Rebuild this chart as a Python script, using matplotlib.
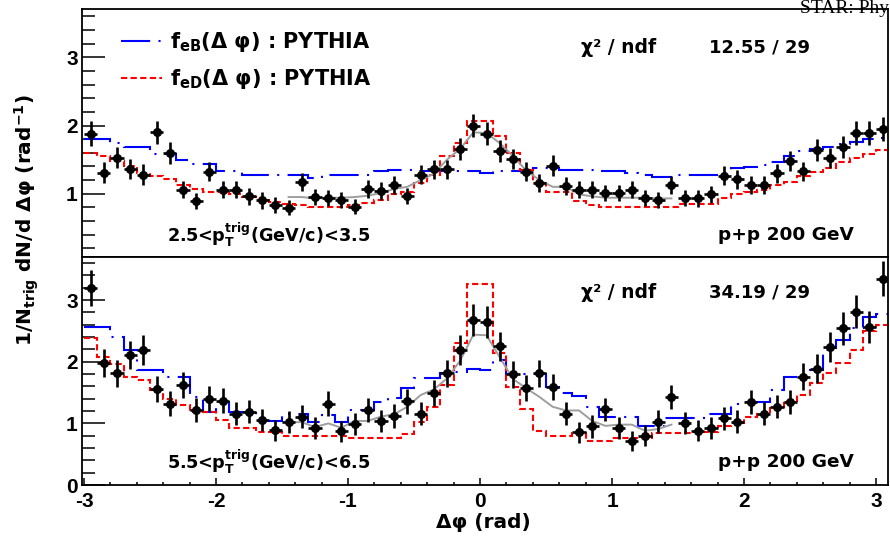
import numpy as np
import matplotlib
matplotlib.use("Agg")
import matplotlib.pyplot as plt
from matplotlib.lines import Line2D
from matplotlib.ticker import MultipleLocator

plt.rcParams['font.family'] = ['Liberation Sans', 'DejaVu Sans']
plt.rcParams['font.weight'] = 'bold'
plt.rcParams['axes.unicode_minus'] = False
plt.rcParams['mathtext.fontset'] = 'dejavusans'
plt.rcParams['mathtext.default'] = 'bf'

LABEL_FONT = 'DejaVu Sans'

# 0.1 rad bins in delta phi, -3.0 .. 3.1
edges = np.linspace(-3.0, 3.1, 62)
centers = 0.5 * (edges[:-1] + edges[1:])
half_bin = 0.05

# the template fit only covers |dphi| < 1.5 (30 bins)
fit_lo, fit_hi = 15, 45
fit_x = centers[fit_lo:fit_hi]

# ---- 2.5 < pT(trig) < 3.5 GeV/c ----
top_data = [1.88, 1.31, 1.53, 1.36, 1.28, 1.90, 1.60, 1.06, 0.89, 1.32,
            1.06, 1.06, 0.96, 0.90, 0.83, 0.79, 1.17, 0.95, 0.94, 0.91,
            0.81, 1.07, 1.04, 1.13, 0.97, 1.28, 1.36, 1.36, 1.65, 2.00,
            1.88, 1.63, 1.51, 1.32, 1.16, 1.41, 1.11, 1.06, 1.06, 1.01,
            1.01, 1.06, 0.94, 0.91, 1.13, 0.94, 0.93, 0.99, 1.26, 1.21,
            1.13, 1.13, 1.30, 1.48, 1.33, 1.64, 1.52, 1.68, 1.89, 1.89,
            1.95]
top_err = [0.18, 0.15, 0.16, 0.15, 0.15, 0.17, 0.16, 0.13, 0.12, 0.14,
           0.13, 0.13, 0.12, 0.12, 0.12, 0.11, 0.13, 0.12, 0.12, 0.12,
           0.11, 0.13, 0.13, 0.13, 0.12, 0.14, 0.14, 0.14, 0.16, 0.17,
           0.17, 0.16, 0.15, 0.14, 0.13, 0.15, 0.13, 0.13, 0.13, 0.12,
           0.12, 0.13, 0.12, 0.12, 0.13, 0.12, 0.12, 0.12, 0.14, 0.14,
           0.13, 0.13, 0.14, 0.15, 0.14, 0.16, 0.15, 0.16, 0.17, 0.17,
           0.18]
top_feB = [1.80, 1.80, 1.75, 1.69, 1.69, 1.58, 1.58, 1.50, 1.43, 1.43,
           1.33, 1.33, 1.28, 1.28, 1.28, 1.28, 1.28, 1.23, 1.28, 1.28,
           1.28, 1.28, 1.33, 1.35, 1.35, 1.33, 1.33, 1.33, 1.33, 1.33,
           1.30, 1.33, 1.33, 1.35, 1.37, 1.37, 1.34, 1.34, 1.34, 1.33,
           1.33, 1.30, 1.28, 1.24, 1.24, 1.28, 1.28, 1.28, 1.31, 1.37,
           1.39, 1.42, 1.46, 1.55, 1.62, 1.66, 1.69, 1.73, 1.76, 1.80,
           1.81]
top_feD = [1.60, 1.55, 1.48, 1.41, 1.31, 1.26, 1.21, 1.13, 1.07, 1.03,
           1.02, 0.99, 0.95, 0.91, 0.88, 0.85, 0.84, 0.81, 0.81, 0.81,
           0.83, 0.86, 0.91, 0.99, 1.03, 1.16, 1.28, 1.55, 1.75, 2.06,
           2.06, 1.85, 1.60, 1.34, 1.16, 1.03, 1.03, 0.89, 0.84, 0.81,
           0.81, 0.81, 0.81, 0.81, 0.81, 0.85, 0.85, 0.85, 0.94, 0.99,
           1.03, 1.06, 1.13, 1.17, 1.26, 1.32, 1.38, 1.46, 1.53, 1.58,
           1.64]
top_fit = [0.95, 0.95, 0.93, 0.94, 0.94, 0.95, 0.97, 1.01, 1.07, 1.10,
           1.20, 1.29, 1.50, 1.66, 1.90, 1.89, 1.74, 1.55, 1.34, 1.20,
           1.10, 1.10, 0.99, 0.96, 0.94, 0.94, 0.94, 0.94, 0.93, 0.93]

# ---- 5.5 < pT(trig) < 6.5 GeV/c ----
bot_data = [3.20, 1.98, 1.81, 2.11, 2.19, 1.56, 1.32, 1.62, 1.22, 1.40,
            1.37, 1.16, 1.19, 1.05, 0.89, 1.02, 1.11, 0.92, 1.32, 0.87,
            0.99, 1.22, 1.04, 1.12, 1.36, 1.16, 1.49, 1.81, 2.19, 2.68,
            2.65, 2.25, 1.80, 1.58, 1.81, 1.59, 1.16, 0.86, 0.95, 1.23,
            0.92, 0.72, 0.80, 1.03, 1.43, 1.00, 0.88, 0.93, 1.08, 1.03,
            1.35, 1.16, 1.27, 1.35, 1.76, 1.89, 2.24, 2.54, 2.81, 2.57,
            3.35]
bot_err = [0.29, 0.23, 0.22, 0.23, 0.24, 0.21, 0.20, 0.21, 0.19, 0.20,
           0.20, 0.19, 0.19, 0.18, 0.17, 0.18, 0.19, 0.18, 0.20, 0.17,
           0.18, 0.19, 0.18, 0.19, 0.20, 0.19, 0.21, 0.22, 0.24, 0.26,
           0.26, 0.24, 0.22, 0.21, 0.22, 0.21, 0.19, 0.17, 0.18, 0.19,
           0.18, 0.16, 0.17, 0.18, 0.20, 0.18, 0.17, 0.18, 0.19, 0.18,
           0.20, 0.19, 0.19, 0.20, 0.22, 0.23, 0.24, 0.26, 0.27, 0.26,
           0.29]
bot_feB = [2.57, 2.57, 2.40, 2.19, 1.87, 1.87, 1.75, 1.75, 1.43, 1.19,
           1.35, 1.18, 1.18, 1.04, 1.04, 1.16, 1.16, 1.03, 1.13, 1.02,
           1.22, 1.22, 1.35, 1.41, 1.57, 1.74, 1.74, 1.81, 1.84, 1.89,
           1.87, 2.03, 1.80, 1.80, 1.80, 1.59, 1.49, 1.45, 1.26, 1.11,
           1.11, 1.11, 0.96, 0.96, 1.08, 1.08, 1.08, 1.16, 1.16, 1.32,
           1.35, 1.35, 1.55, 1.76, 1.76, 1.86, 2.19, 2.35, 2.54, 2.73,
           2.78]
bot_feD = [2.39, 2.08, 1.97, 1.76, 1.70, 1.54, 1.40, 1.30, 1.19, 1.19,
           1.05, 0.92, 0.92, 0.86, 0.86, 0.80, 0.80, 0.80, 0.80, 0.80,
           0.76, 0.76, 0.76, 0.76, 0.83, 1.03, 1.26, 1.62, 2.30, 3.27,
           3.27, 2.14, 1.59, 1.23, 0.88, 0.80, 0.80, 0.84, 0.72, 0.72,
           0.77, 0.77, 0.77, 0.84, 0.84, 0.84, 0.86, 0.86, 0.95, 1.00,
           1.11, 1.15, 1.25, 1.36, 1.46, 1.65, 1.82, 1.98, 2.19, 2.50,
           2.60]
bot_fit = [1.02, 1.02, 0.94, 1.00, 0.93, 1.04, 1.04, 1.11, 1.15, 1.27,
           1.46, 1.55, 1.73, 2.02, 2.44, 2.43, 2.07, 1.72, 1.57, 1.43,
           1.27, 1.21, 1.21, 1.04, 0.96, 0.98, 0.98, 0.88, 0.91, 0.98]

pt_bins = ['2.5<p$_{T}^{trig}$(GeV/c)<3.5', '5.5<p$_{T}^{trig}$(GeV/c)<6.5']
chi2 = ['12.55 / 29', '34.19 / 29']

blue_ls = (0, (14, 4, 1, 4))
red_ls = (0, (3, 1.6))

fig = plt.figure(figsize=(8.9, 5.36), dpi=100)
ax1 = fig.add_axes([0.0921, 0.5205, 0.9056, 0.4627])
ax2 = fig.add_axes([0.0921, 0.0951, 0.9056, 0.4254])


def draw_panel(ax, data, err, feB, feD, fit):
    ax.stairs(feB, edges, baseline=None, color='#0000ff', lw=1.5,
              linestyle=blue_ls, zorder=2)
    ax.stairs(feD, edges, baseline=None, color='#ff0000', lw=1.5,
              linestyle=red_ls, zorder=2)
    ax.plot(fit_x, fit, color='0.62', lw=1.4, zorder=3)
    ax.errorbar(centers, data, yerr=err, xerr=half_bin, fmt='o', color='black',
                ms=5.5, elinewidth=1.9, capsize=0, zorder=5)
    ax.set_xlim(-3.015, 3.09)
    ax.yaxis.set_major_locator(MultipleLocator(1))
    ax.yaxis.set_minor_locator(MultipleLocator(0.2))
    ax.tick_params(axis='y', which='major', direction='in', length=16.5,
                   width=1.1, labelsize=15, pad=3, right=False)
    ax.tick_params(axis='y', which='minor', direction='in', length=9,
                   width=1.1, right=False)
    for s in ax.spines.values():
        s.set_linewidth(1.3)


draw_panel(ax1, top_data, top_err, top_feB, top_feD, top_fit)
draw_panel(ax2, bot_data, bot_err, bot_feB, bot_feD, bot_fit)

ax1.set_ylim(0.07, 3.71)
ax1.tick_params(axis='x', which='both', bottom=False, labelbottom=False)

ax2.set_ylim(0, 3.70)
ax2.xaxis.set_major_locator(MultipleLocator(1))
ax2.xaxis.set_minor_locator(MultipleLocator(0.2))
ax2.tick_params(axis='x', which='major', direction='in', length=5,
                width=1.1, labelsize=15, pad=5, top=False)
ax2.tick_params(axis='x', which='minor', direction='in', length=2.5,
                width=1.1, top=False)

# legend for the two PYTHIA templates
handles = [Line2D([], [], color='#0000ff', lw=1.5, linestyle=blue_ls),
           Line2D([], [], color='#ff0000', lw=1.5, linestyle=red_ls)]
labels = ['f$_{eB}$(Δ φ) : PYTHIA', 'f$_{eD}$(Δ φ) : PYTHIA']
ax1.legend(handles, labels, loc='upper left', bbox_to_anchor=(0.048, 0.915),
           frameon=False, handlelength=2.0, handletextpad=0.35,
           labelspacing=0.62, borderpad=0, borderaxespad=0,
           prop=dict(family=LABEL_FONT, weight='bold', size=15))

for ax, ptl, chi, ytxt, ylab in [(ax1, pt_bins[0], chi2[0], 3.14, 0.40),
                                 (ax2, pt_bins[1], chi2[1], 3.13, 0.37)]:
    ax.text(1.05, ytxt, 'χ² / ndf', ha='center', va='center', fontsize=13.5,
            family=LABEL_FONT)
    ax.text(2.12, ytxt, chi, ha='center', va='center', fontsize=13,
            family=LABEL_FONT)
    ax.text(-1.60, ylab, ptl, ha='center', va='center', fontsize=12.7,
            family=LABEL_FONT)
    ax.text(2.32, ylab, 'p+p 200 GeV', ha='center', va='center', fontsize=13.3,
            family=LABEL_FONT)

fig.text(27 / 890, 1 - 220 / 536, r'1/N$_{trig}$ dN/d Δφ (rad$^{-1}$)',
         rotation=90, ha='center', va='center', fontsize=14.5,
         family=LABEL_FONT)
fig.text(483 / 890, 1 - 522 / 536, 'Δφ (rad)', ha='center', va='center',
         fontsize=14.5, family=LABEL_FONT)
fig.text(889 / 890, 1 - 13 / 536, 'STAR: Phy', ha='right', va='baseline',
         fontsize=14, family='Liberation Serif', fontweight='normal')

fig.savefig('out.png', dpi=100)
